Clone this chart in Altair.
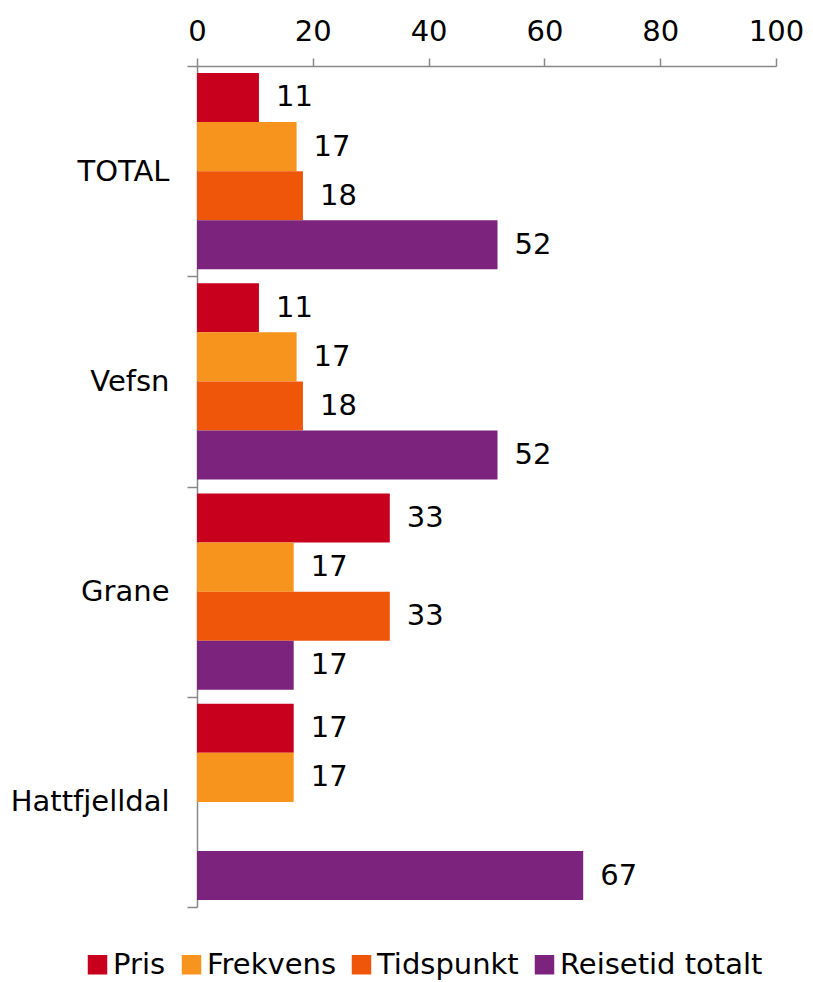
import altair as alt
import pandas as pd

categories = ["TOTAL", "Vefsn", "Grane", "Hattfjelldal"]
series = ["Pris", "Frekvens", "Tidspunkt", "Reisetid totalt"]
colors = ["#c8001e", "#f7941d", "#f0560a", "#7b237d"]
pris = [10.7, 10.7, 33.3, 16.7]
frekvens = [17.2, 17.2, 16.7, 16.7]
tidspunkt = [18.3, 18.3, 33.3, None]
reisetid = [51.9, 51.9, 16.7, 66.7]
x_ticks = [0, 20, 40, 60, 80, 100]

rows = []
for s, vals in zip(series, [pris, frekvens, tidspunkt, reisetid]):
    for c, v in zip(categories, vals):
        if v is not None:
            rows.append({"Område": c, "Serie": s, "Verdi": v})
df = pd.DataFrame(rows)

FONT = "DejaVu Sans"
FS = 29

y_enc = alt.Y("Område:N", sort=categories,
              scale=alt.Scale(paddingInner=0, paddingOuter=0),
              axis=alt.Axis(title=None, tickBand="extent", tickSize=10, labelPadding=18,
                            domainColor="#888888", tickColor="#888888", domainWidth=1.5,
                            tickWidth=1.5, labelFont=FONT, labelFontSize=FS,
                            labelColor="#000000", labelLimit=0))
yoff = alt.YOffset("Serie:N", sort=series,
                   scale=alt.Scale(domain=series, paddingInner=0, paddingOuter=0.14))
x_enc = alt.X("Verdi:Q", scale=alt.Scale(domain=[0, 100], nice=False),
              axis=alt.Axis(title=None, orient="top", values=x_ticks, grid=False,
                            tickSize=8, labelPadding=12, labelFlush=False,
                            domainColor="#888888",
                            tickColor="#888888", domainWidth=1.5, tickWidth=1.5,
                            labelFont=FONT, labelFontSize=FS, labelColor="#000000"))

base = alt.Chart(df)
bars = base.mark_bar().encode(
    x=x_enc, y=y_enc, yOffset=yoff,
    color=alt.Color("Serie:N", sort=series,
                    scale=alt.Scale(domain=series, range=colors),
                    legend=alt.Legend(title=None, orient="none", direction="horizontal",
                                      legendX=-114, legendY=884,
                                      symbolType="square", symbolSize=380,
                                      symbolStrokeWidth=0, labelFont=FONT,
                                      labelFontSize=FS, labelColor="#000000",
                                      labelLimit=0, columnPadding=11, labelOffset=1)))
labels = base.mark_text(align="left", baseline="middle", dx=17, font=FONT,
                        fontSize=FS, color="#000000").encode(
    x="Verdi:Q", y=alt.Y("Område:N", sort=categories), yOffset=yoff,
    text=alt.Text("Verdi:Q", format=".0f"))

chart = alt.layer(bars, labels).properties(
    width=579, height=841,
    padding={"left": 2, "top": 9, "right": 0, "bottom": 0}
).configure_view(stroke=None)

chart.save("out.html", embed_options={"renderer": "svg", "actions": False})
